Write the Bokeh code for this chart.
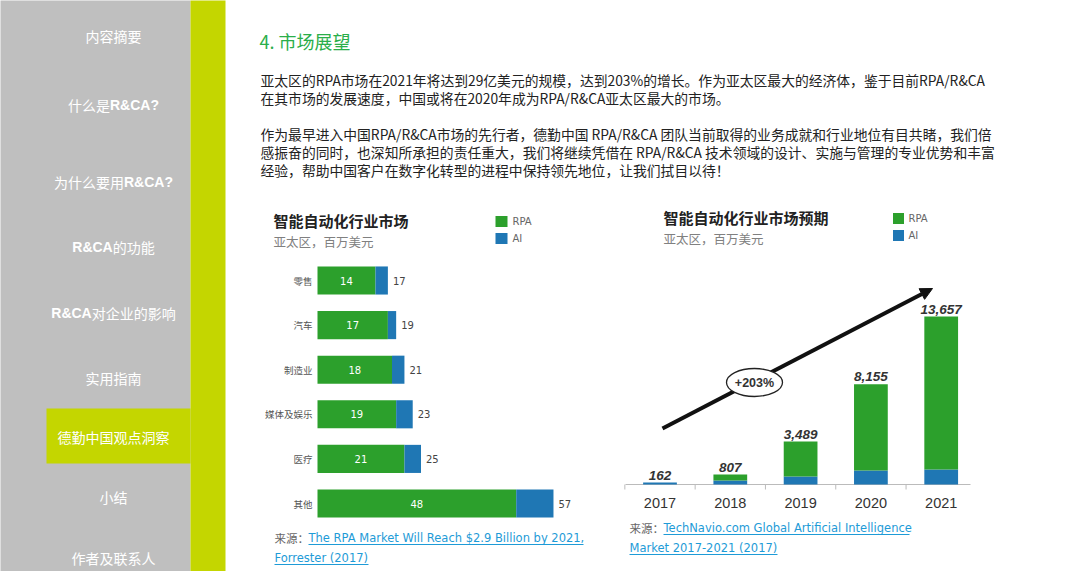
from bokeh.plotting import figure
from bokeh.models import Range1d, Arrow, NormalHead, ColumnDataSource
from bokeh.core.properties import value
from bokeh.embed import file_html
from bokeh.resources import INLINE

# ---------------- data ----------------
nav_items = [("内容摘要", "", ""), ("什么是", "R&CA?", ""), ("为什么要用", "R&CA?", ""),
             ("", "R&CA", "的功能"), ("", "R&CA", "对企业的影响"), ("实用指南", "", ""),
             ("德勤中国观点洞察", "", ""), ("小结", "", ""), ("作者及联系人", "", "")]
nav_active = 6
heading = "4. 市场展望"
para_lines = [
    "亚太区的RPA市场在2021年将达到29亿美元的规模，达到203%的增长。作为亚太区最大的经济体，鉴于目前RPA/R&CA",
    "在其市场的发展速度，中国或将在2020年成为RPA/R&CA亚太区最大的市场。",
    "作为最早进入中国RPA/R&CA市场的先行者，德勤中国 RPA/R&CA 团队当前取得的业务成就和行业地位有目共睹，我们倍",
    "感振奋的同时，也深知所承担的责任重大，我们将继续凭借在 RPA/R&CA 技术领域的设计、实施与管理的专业优势和丰富",
    "经验，帮助中国客户在数字化转型的进程中保持领先地位，让我们拭目以待！",
]
series = ["RPA", "AI"]
unit_label = "亚太区，百万美元"
source_prefix = "来源："

c1_title = "智能自动化行业市场"
c1_cats = ["零售", "汽车", "制造业", "媒体及娱乐", "医疗", "其他"]
c1_rpa = [14, 17, 18, 19, 21, 48]
c1_ai = [3, 2, 3, 4, 4, 9]
c1_source = ["The RPA Market Will Reach $2.9 Billion by 2021,", "Forrester (2017)"]

c2_title = "智能自动化行业市场预期"
c2_years = ["2017", "2018", "2019", "2020", "2021"]
c2_total = [162, 807, 3489, 8155, 13657]
c2_ai = [162, 320, 650, 1140, 1220]
c2_growth = "+203%"
c2_source = ["TechNavio.com Global Artificial Intelligence", "Market 2017-2021 (2017)"]

# ---------------- styles ----------------
GREEN = "#2CA02C"
BLUE = "#1F77B4"
GREY_BG = "#BFBFBF"
LIME = "#C4D600"
LINK = "#1E9BD7"
CJK = value("Noto Sans CJK SC")
SANS = value("DejaVu Sans")
ARIAL = value("Liberation Sans")

W, H = 1064, 571


def lin(p0, k, lo, hi):
    return Range1d(start=(lo - p0) / k, end=(hi - p0) / k)


p = figure(width=W, height=H, x_range=Range1d(0, W), y_range=Range1d(H, 0),
           output_backend="svg", toolbar_location=None, tools="", min_border=0,
           x_axis_location=None, y_axis_location=None)
p.grid.visible = False
p.outline_line_color = None
p.background_fill_color = "white"
p.border_fill_color = "white"

p.extra_x_ranges = {"c1x": lin(317, 4.14, 0, W), "c2x": lin(659.5, 70.3, 0, W)}
p.extra_y_ranges = {"c1y": lin(280, 44.6, H, 0),
                    "c2y": lin(484, -168.0 / 13657, H, 0)}

# ---------------- sidebar ----------------
p.quad(left=[-10], right=[190], top=[-10], bottom=[600], color=GREY_BG, line_color=None)
p.quad(left=[190], right=[225], top=[-10], bottom=[600], color=LIME, line_color=None)
p.quad(left=[46], right=[190], top=[408], bottom=[463], color=LIME, line_color=None)

nav_y = [35, 104, 181, 246, 312, 377, 436, 496, 557]
FS_NAV = 14
bold_w = {"R": 0.722, "&": 0.722, "C": 0.722, "A": 0.722, "?": 0.611}
for (pre, bold, post), yy in zip(nav_items, nav_y):
    wpre = len(pre) * FS_NAV
    wb = sum(bold_w[c] for c in bold) * FS_NAV
    wpost = len(post) * FS_NAV
    start = 113 - (wpre + wb + wpost) / 2
    if pre:
        p.text(x=[start], y=[yy], text=[pre], text_font=CJK, text_font_size="14px",
               text_color="white", text_baseline="middle", text_align="left")
    if bold:
        p.text(x=[start + wpre], y=[yy], text=[bold], text_font=ARIAL, text_font_size="14px",
               text_font_style="bold", text_color="white", text_baseline="middle", text_align="left")
    if post:
        p.text(x=[start + wpre + wb], y=[yy], text=[post], text_font=CJK, text_font_size="14px",
               text_color="white", text_baseline="middle", text_align="left")

# ---------------- heading & paragraphs ----------------
p.text(x=[259], y=[40], text=[heading], text_font=CJK, text_font_size="18px",
       text_color="#2AAE4A", text_baseline="middle")
para_y = [79, 97, 133, 151, 169]
p.text(x=[260] * len(para_lines), y=para_y, text=para_lines, text_font=CJK,
       text_font_size="13.8px", text_color="#222222", text_baseline="middle")

# ---------------- chart 1 ----------------
p.text(x=[273], y=[220], text=[c1_title], text_font=CJK, text_font_size="15px",
       text_font_style="bold", text_color="#222222", text_baseline="middle")
p.text(x=[273], y=[241], text=[unit_label], text_font=CJK, text_font_size="12.5px",
       text_color="#808080", text_baseline="middle")
p.rect(x=[501, 501], y=[221, 238], width=12, height=11, color=[GREEN, BLUE], line_color=None)
p.text(x=[512, 512], y=[221, 238], text=series, text_font=SANS, text_font_size="10px",
       text_color="#666666", text_baseline="middle")

c1_total = [r + a for r, a in zip(c1_rpa, c1_ai)]
s1 = ColumnDataSource(dict(idx=list(range(len(c1_cats))), cat=c1_cats, rpa=c1_rpa,
                           total=c1_total, mid=[r / 2 for r in c1_rpa],
                           rpa_lbl=[str(v) for v in c1_rpa], tot_lbl=[str(v) for v in c1_total],
                           zero=[0] * len(c1_cats)))
p.hbar(y="idx", left="zero", right="rpa", height=0.63, color=GREEN, line_color=None,
       source=s1, x_range_name="c1x", y_range_name="c1y")
p.hbar(y="idx", left="rpa", right="total", height=0.63, color=BLUE, line_color=None,
       source=s1, x_range_name="c1x", y_range_name="c1y")
p.text(x="mid", y="idx", text="rpa_lbl", source=s1, x_range_name="c1x", y_range_name="c1y",
       text_font=SANS, text_font_size="10px", text_color="white",
       text_align="center", text_baseline="middle")
p.text(x="total", y="idx", text="tot_lbl", source=s1, x_range_name="c1x", y_range_name="c1y",
       x_offset=5, text_font=SANS, text_font_size="10px", text_color="#444444",
       text_align="left", text_baseline="middle")
p.text(x="zero", y="idx", text="cat", source=s1, x_range_name="c1x", y_range_name="c1y",
       x_offset=-5, text_font=CJK, text_font_size="9.5px", text_color="#555555",
       text_align="right", text_baseline="middle")

p.text(x=[274], y=[537], text=[source_prefix], text_font=CJK, text_font_size="11.5px",
       text_color="#666666", text_baseline="middle")
p.text(x=[308, 274], y=[537, 557], text=c1_source, text_font=SANS, text_font_size="11.5px",
       text_color=LINK, text_baseline="middle")
p.segment(x0=[308, 274], x1=[583, 368], y0=[544, 564], y1=[544, 564], line_color=LINK, line_width=1)

# ---------------- chart 2 ----------------
p.text(x=[663], y=[217], text=[c2_title], text_font=CJK, text_font_size="15px",
       text_font_style="bold", text_color="#222222", text_baseline="middle")
p.text(x=[663], y=[238], text=[unit_label], text_font=CJK, text_font_size="12.5px",
       text_color="#808080", text_baseline="middle")
p.rect(x=[898, 898], y=[218, 235], width=11, height=11, color=[GREEN, BLUE], line_color=None)
p.text(x=[908, 908], y=[218, 235], text=series, text_font=SANS, text_font_size="10px",
       text_color="#666666", text_baseline="middle")

n2 = len(c2_years)
s2 = ColumnDataSource(dict(idx=list(range(n2)), year=c2_years, total=c2_total, ai=c2_ai,
                           zero=[0] * n2, lbl=["{:,}".format(v) for v in c2_total],
                           tick=[i - 0.5 for i in range(n2)]))
p.segment(x0=[625], x1=[970], y0=[484], y1=[484], line_color="#BBBBBB", line_width=1)
p.segment(x0="tick", x1="tick", y0=484, y1=489, source=s2, x_range_name="c2x",
          line_color="#BBBBBB", line_width=1)
p.vbar(x="idx", bottom="zero", top="ai", width=0.48, color=BLUE, line_color=None,
       source=s2, x_range_name="c2x", y_range_name="c2y")
p.vbar(x="idx", bottom="ai", top="total", width=0.48, color=GREEN, line_color=None,
       source=s2, x_range_name="c2x", y_range_name="c2y")
p.text(x="idx", y="total", text="lbl", source=s2, x_range_name="c2x", y_range_name="c2y",
       y_offset=-3, text_font=ARIAL, text_font_size="13.5px", text_font_style="bold italic",
       text_color="#333333", text_align="center", text_baseline="bottom")
p.text(x="idx", y=502, text="year", source=s2, x_range_name="c2x",
       text_font=ARIAL, text_font_size="14.5px", text_color="#333333",
       text_align="center", text_baseline="middle")

arrow = Arrow(end=NormalHead(size=12, fill_color="#111111", line_color="#111111"),
              x_start=662, y_start=428, x_end=932, y_end=288,
              line_width=4, line_color="#111111", level="underlay")
p.add_layout(arrow)
p.ellipse(x=[754], y=[382], width=56, height=28, fill_color="white",
          line_color="#222222", line_width=1.3)
p.text(x=[754], y=[382], text=[c2_growth], text_font=ARIAL, text_font_size="12.5px",
       text_font_style="bold", text_color="#333333", text_align="center", text_baseline="middle")

p.text(x=[629], y=[527], text=[source_prefix], text_font=CJK, text_font_size="11.5px",
       text_color="#666666", text_baseline="middle")
p.text(x=[663, 629], y=[527, 547], text=c2_source, text_font=SANS, text_font_size="11.5px",
       text_color=LINK, text_baseline="middle")
p.segment(x0=[663, 629], x1=[909, 777], y0=[534, 554], y1=[534, 554], line_color=LINK, line_width=1)

open("out.html", "w", encoding="utf-8").write(file_html(p, INLINE))
